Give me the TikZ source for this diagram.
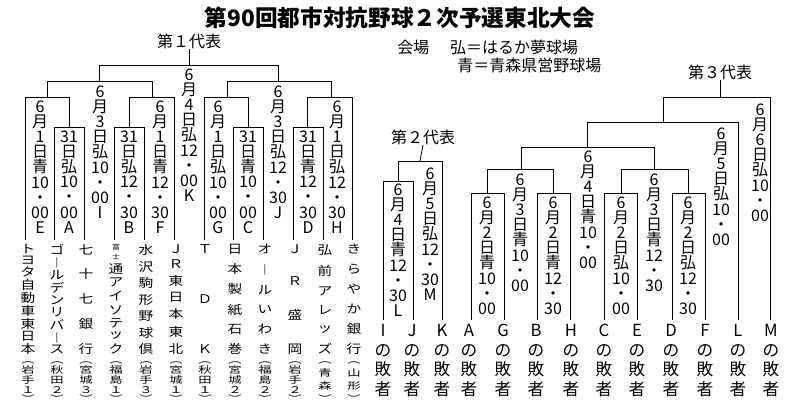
\documentclass[tikz,border=0pt]{standalone}
\usepackage{fontspec}
\setmainfont{Noto Sans CJK JP}
\usepackage{tikz}
\usetikzlibrary{positioning}
\newcommand\vdate[1]{\vbox{\baselineskip=11.4pt\lineskiplimit=-20pt\lineskip=0pt\foreach \c in {#1}{\hbox to 12pt{\hss\c\hss}}}}
\newcommand\vspread[2]{\vbox to #1{\offinterlineskip\foreach \c in #2{\hbox to 12pt{\hss\c\hss}\vss}\unskip}}
\newcommand\fuji{{\fontsize{6}{6.5}\selectfont\shortstack{富\\士}}}
\begin{document}
\begin{tikzpicture}[x=0.75pt, y=-0.75pt, semithick, line width=0.6pt,
  date/.style={anchor=north, inner sep=0pt, font=\fontsize{12}{12}\selectfont},
  team/.style={anchor=north, inner sep=0pt, yscale=0.82, transform shape, font=\fontsize{11}{11}\selectfont},
  pref/.style={anchor=south, inner sep=0pt, yscale=0.7, transform shape, font=\fontsize{10}{10}\selectfont},
  loser/.style={anchor=north, inner sep=0pt, align=center, font=\fontsize{12.5}{14.6}\selectfont},
  head/.style={inner sep=0pt, font=\fontsize{12}{12}\selectfont}]
		\useasboundingbox (0,0) rectangle (798,405);
		% titles
		\node[inner sep=0pt, font=\fontsize{17}{17}\selectfont\bfseries] (title) at (400,18) {第90回都市対抗野球２次予選東北大会};
		\node[head] (rep1) at (189,41) {第１代表};
		\node[head] (rep2) at (423,137) {第２代表};
		\node[head] (rep3) at (720,72) {第３代表};
		\node[head, anchor=west] (venue1) at (397,47) {会場\hspace{1.3em}弘＝はるか夢球場};
		\node[head, anchor=west] (venue2) at (457,65) {青＝青森県営野球場};

		% first bracket: team line ends
		\foreach \n/\x in {t1/25,t2/54,t3/84,t4/114,t5/144,t6/174,t7/204,t8/233,t9/263,t10/293,t11/323,t12/352}
			\coordinate (\n) at (\x,240);
		\draw (t2) |- (84,127) -- (t3);
		\draw (t4) |- (144,127) -- (t5);
		\draw (t8) |- (263,127) -- (t9);
		\draw (t10) |- (323,127) -- (t11);
		\draw (t1) |- (69,97) -- (69,127);
		\draw (t6) |- (129,97) -- (129,127);
		\draw (t7) |- (248,97) -- (248,127);
		\draw (t12) |- (307,97) -- (307,127);
		\draw (47,97) |- (152,81) -- (152,97);
		\draw (227,97) |- (331,81) -- (331,97);
		\draw (99,81) |- (278,65) -- (278,81);
		\draw (189,65) -- (rep1.south);

		% first bracket: dates
		\node[date] (mE) at (40,100)  {\vdate{6,月,1,日,青,10,・,00,E}};
		\node[date] (mA) at (69,130)  {\vdate{31,日,弘,10,・,00,A}};
		\node[date] (mI) at (100,85)  {\vdate{6,月,3,日,弘,10,・,00,I}};
		\node[date] (mB) at (129,130) {\vdate{31,日,弘,12,・,30,B}};
		\node[date] (mF) at (160,100) {\vdate{6,月,1,日,青,12,・,30,F}};
		\node[date] (mK) at (189,68)  {\vdate{6,月,4,日,弘,12,・,00,K}};
		\node[date] (mG) at (218,100) {\vdate{6,月,1,日,弘,10,・,00,G}};
		\node[date] (mC) at (248,130) {\vdate{31,日,青,10,・,00,C}};
		\node[date] (mJ) at (278,85)  {\vdate{6,月,3,日,弘,12,・,30,J}};
		\node[date] (mD) at (308,130) {\vdate{31,日,青,12,・,30,D}};
		\node[date] (mH) at (337,100) {\vdate{6,月,1,日,弘,12,・,30,H}};

		% teams
		\foreach \x/\name/\pre in {
			28/{ト,ヨ,タ,自,動,車,東,日,本}/{︵,岩,手,１,︶},
			57/{ゴ,︱,ル,デ,ン,リ,バ,︱,ス}/{︵,秋,田,２,︶},
			86/{七,十,七,銀,行}/{︵,宮,城,３,︶},
			116/{\fuji,通,ア,イ,ソ,テ,ッ,ク}/{︵,福,島,１,︶},
			146/{水,沢,駒,形,野,球,倶}/{︵,岩,手,３,︶},
			176/{Ｊ,Ｒ,東,日,本,東,北}/{︵,宮,城,１,︶},
			205/{Ｔ,Ｄ,Ｋ}/{︵,秋,田,１,︶},
			235/{日,本,製,紙,石,巻}/{︵,宮,城,２,︶},
			265/{オ,︱,ル,い,わ,き}/{︵,福,島,２,︶},
			295/{Ｊ,Ｒ,盛,岡}/{︵,岩,手,２,︶},
			325/{弘,前,ア,レ,ッ,ズ}/{︵,青,森,︶},
			354/{き,ら,や,か,銀,行}/{︵,山,形,︶}}{
			\node[team] at (\x,244) {\vspread{100pt}{\name}};
			\node[pref] at (\x,403) {\vspread{44pt}{\pre}};
		}

		% second bracket
		\foreach \n/\x in {uI/383,uJ/413,uK/442}
			\coordinate (\n) at (\x,320);
		\draw (uI) |- (413,181) -- (uJ);
		\draw (398,181) |- (442,161) -- (uK);
		\draw (420,161) -- (rep2.south);
		\node[date] (mL) at (398,183) {\vdate{6,月,4,日,青,12,・,30,L}};
		\node[date] (mM) at (430,167) {\vdate{6,月,5,日,弘,12,・,30,M}};

		% third bracket
		\foreach \n/\x in {uA/471,uG/504,uB/537,uH/570,uC/604,uE/637,uD/672,uF/705,uL/738,uM/770}
			\coordinate (\n) at (\x,320);
		\draw (uA) |- (504,193) -- (uG);
		\draw (uB) |- (570,193) -- (uH);
		\draw (uC) |- (637,193) -- (uE);
		\draw (uD) |- (705,193) -- (uF);
		\draw (487,193) |- (553,169) -- (553,193);
		\draw (621,193) |- (688,169) -- (688,193);
		\draw (521,169) |- (654,147) -- (654,169);
		\draw (587,147) |- (738,122) -- (uL);
		\draw (663,122) |- (770,97) -- (uM);
		\draw (720,97) -- (rep3.south);
		\node[date] (r1) at (487,196) {\vdate{6,月,2,日,青,10,・,00}};
		\node[date] (r2) at (520,173) {\vdate{6,月,3,日,青,10,・,00}};
		\node[date] (r3) at (553,196) {\vdate{6,月,2,日,青,12,・,30}};
		\node[date] (r4) at (588,150) {\vdate{6,月,4,日,青,10,・,00}};
		\node[date] (r5) at (621,196) {\vdate{6,月,2,日,弘,10,・,00}};
		\node[date] (r6) at (654,173) {\vdate{6,月,3,日,青,12,・,30}};
		\node[date] (r7) at (688,196) {\vdate{6,月,2,日,弘,12,・,30}};
		\node[date] (r8) at (721,127) {\vdate{6,月,5,日,弘,10,・,00}};
		\node[date] (r9) at (760,103) {\vdate{6,月,6,日,弘,10,・,00}};

		% losers
		\foreach \l/\x in {I/383,J/412,K/442,A/469,G/503,B/536,H/571,C/604,E/637,D/671,F/705,L/738,M/771}
			\node[loser] (lose\l) at (\x,324) {\l\\の\\敗\\者};
\end{tikzpicture}
\end{document}
